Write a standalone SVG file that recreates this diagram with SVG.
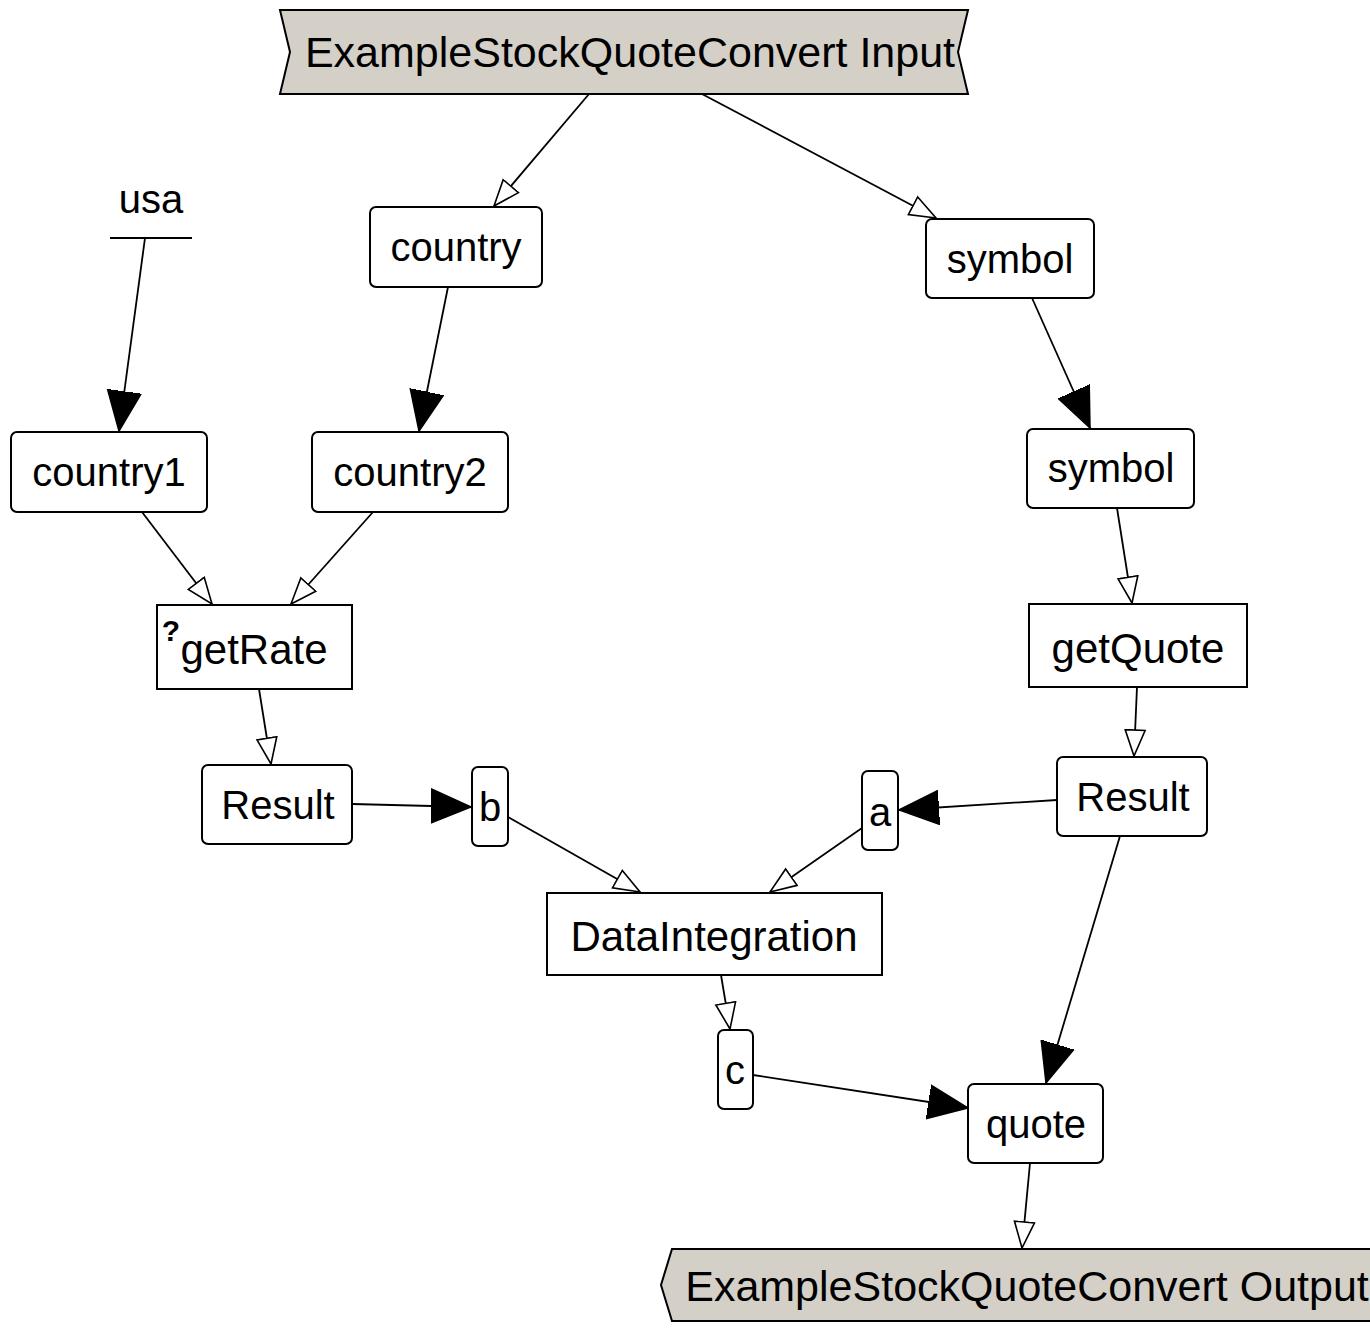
<svg xmlns="http://www.w3.org/2000/svg" width="1370" height="1330" viewBox="0 0 1370 1330">
  <style>
    text { font-family: "Liberation Sans", Arial, sans-serif; fill: #000; text-anchor: middle; dominant-baseline: central; }
    .banner { fill: #d4d0c8; stroke: #000; stroke-width: 2; }
    .param { fill: #fff; stroke: #000; stroke-width: 2; }
    .op { fill: #fff; stroke: #000; stroke-width: 2; }
    .lbl { font-size: 40px; }
    .big { font-size: 42px; }
    .title { font-size: 43px; }
    .edge { fill: none; stroke: #000; stroke-width: 1.8; }
    .solid { marker-end: url(#filled); }
    .open { marker-end: url(#hollow); }
  </style>
  <defs>
    <marker id="filled" markerUnits="userSpaceOnUse" markerWidth="42" markerHeight="36" viewBox="0 -18 42 36" refX="40" refY="0" orient="auto">
      <path d="M0,-17 L40,0 L0,17 Z" fill="#000" stroke="#000" stroke-width="1.5"/>
    </marker>
    <marker id="hollow" markerUnits="userSpaceOnUse" markerWidth="30" markerHeight="24" viewBox="-1 -12 30 24" refX="26" refY="0" orient="auto">
      <path d="M0,-10 L26,0 L0,10 Z" fill="#fff" stroke="#000" stroke-width="1.6"/>
    </marker>
  </defs>

  <!-- connectors -->
  <g id="edges">
    <line class="edge open" x1="589" y1="94" x2="494" y2="206"/>
    <line class="edge open" x1="702" y1="94" x2="936" y2="218"/>
    <line class="edge solid" x1="145" y1="238" x2="119" y2="431"/>
    <line class="edge solid" x1="448" y1="287" x2="419" y2="431"/>
    <line class="edge solid" x1="1032" y1="298" x2="1090" y2="428"/>
    <line class="edge open" x1="142" y1="512" x2="212" y2="604"/>
    <line class="edge open" x1="373" y1="512" x2="291" y2="604"/>
    <line class="edge open" x1="1117" y1="508" x2="1132" y2="603"/>
    <line class="edge open" x1="259" y1="689" x2="271" y2="764"/>
    <line class="edge open" x1="1137" y1="687" x2="1134" y2="756"/>
    <line class="edge solid" x1="352" y1="804" x2="471" y2="807"/>
    <line class="edge solid" x1="1057" y1="800" x2="899" y2="810"/>
    <line class="edge open" x1="508" y1="817" x2="640" y2="892"/>
    <line class="edge open" x1="862" y1="828" x2="770" y2="892"/>
    <line class="edge solid" x1="1120" y1="836" x2="1046" y2="1083"/>
    <line class="edge open" x1="721" y1="975" x2="730" y2="1029"/>
    <line class="edge solid" x1="753" y1="1075" x2="968" y2="1108"/>
    <line class="edge open" x1="1030" y1="1163" x2="1022" y2="1248"/>
  </g>

  <g id="input">
    <polygon class="banner" points="280,10 968,10 958,52 968,94 280,94 290,52"/>
    <text class="title" x="630" y="52">ExampleStockQuoteConvert Input</text>
  </g>

  <g id="usa">
    <text class="lbl" x="151" y="199">usa</text>
    <line x1="110" y1="238" x2="192" y2="238" stroke="#000" stroke-width="2"/>
  </g>

  <g id="country">
    <rect class="param" x="370" y="207" width="172" height="80" rx="6"/>
    <text class="lbl" x="456" y="247">country</text>
  </g>

  <g id="symbol-in">
    <rect class="param" x="926" y="219" width="168" height="79" rx="6"/>
    <text class="lbl" x="1010" y="259">symbol</text>
  </g>

  <g id="country1">
    <rect class="param" x="11" y="432" width="196" height="80" rx="6"/>
    <text class="lbl" x="109" y="472">country1</text>
  </g>

  <g id="country2">
    <rect class="param" x="312" y="432" width="196" height="80" rx="6"/>
    <text class="lbl" x="410" y="472">country2</text>
  </g>

  <g id="symbol">
    <rect class="param" x="1027" y="429" width="167" height="79" rx="6"/>
    <text class="lbl" x="1111" y="468">symbol</text>
  </g>

  <g id="getRate">
    <rect class="op" x="157" y="605" width="195" height="84"/>
    <text class="big" x="254" y="649">getRate</text>
    <text x="171" y="630" style="font-size:30px;font-weight:bold">?</text>
  </g>

  <g id="getQuote">
    <rect class="op" x="1029" y="604" width="218" height="83"/>
    <text class="big" x="1138" y="648">getQuote</text>
  </g>

  <g id="result-rate">
    <rect class="param" x="202" y="765" width="150" height="79" rx="6"/>
    <text class="lbl" x="278" y="805">Result</text>
  </g>

  <g id="b">
    <rect class="param" x="472" y="767" width="36" height="79" rx="6"/>
    <text class="lbl" x="490" y="807">b</text>
  </g>

  <g id="a">
    <rect class="param" x="862" y="771" width="36" height="79" rx="6"/>
    <text class="lbl" x="880" y="812">a</text>
  </g>

  <g id="result-quote">
    <rect class="param" x="1057" y="757" width="150" height="79" rx="6"/>
    <text class="lbl" x="1133" y="797">Result</text>
  </g>

  <g id="DataIntegration">
    <rect class="op" x="547" y="893" width="335" height="82"/>
    <text class="big" x="714" y="936">DataIntegration</text>
  </g>

  <g id="c">
    <rect class="param" x="718" y="1030" width="35" height="79" rx="6"/>
    <text class="lbl" x="735" y="1070">c</text>
  </g>

  <g id="quote">
    <rect class="param" x="968" y="1084" width="135" height="79" rx="6"/>
    <text class="lbl" x="1036" y="1124">quote</text>
  </g>

  <g id="output">
    <polygon class="banner" points="672,1249 1380,1249 1380,1321 672,1321 661,1285"/>
    <text class="title" x="1027" y="1286">ExampleStockQuoteConvert Output</text>
  </g>
</svg>
